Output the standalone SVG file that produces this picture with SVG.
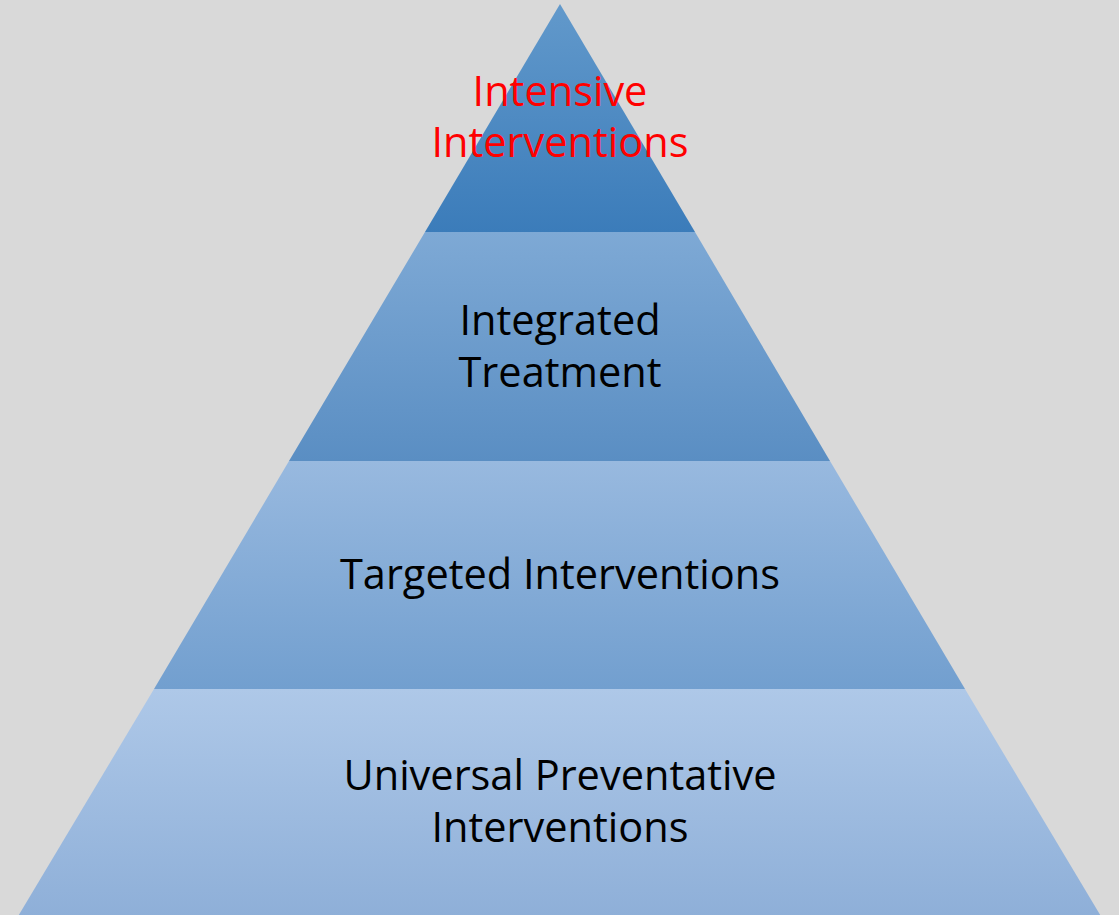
<svg xmlns="http://www.w3.org/2000/svg" width="1119" height="915" viewBox="0 0 1119 915">
  <defs>
    <linearGradient id="g1" x1="0" y1="0" x2="0" y2="1">
      <stop offset="0" stop-color="#6299cb"/>
      <stop offset="1" stop-color="#3b7cba"/>
    </linearGradient>
    <linearGradient id="g2" x1="0" y1="0" x2="0" y2="1">
      <stop offset="0" stop-color="#7ea9d5"/>
      <stop offset="1" stop-color="#5a8ec3"/>
    </linearGradient>
    <linearGradient id="g3" x1="0" y1="0" x2="0" y2="1">
      <stop offset="0" stop-color="#98b9df"/>
      <stop offset="1" stop-color="#729fcf"/>
    </linearGradient>
    <linearGradient id="g4" x1="0" y1="0" x2="0" y2="1">
      <stop offset="0" stop-color="#aec8e8"/>
      <stop offset="1" stop-color="#8eafd8"/>
    </linearGradient>
    <style>
      .lbl { font-family: "Open Sans", "Liberation Sans", sans-serif; font-size: 41.5px; text-anchor: middle; fill: #000; }
      .red { fill: #ff0000; }
    </style>
  </defs>
  <rect width="1119" height="915" fill="#d9d9d9"/>

  <g id="tier-universal">
    <polygon points="154,689 965,689 1102,918 17,918" fill="url(#g4)"/>
    <text class="lbl" x="560" y="790">Universal Preventative</text>
    <text class="lbl" x="560" y="842">Interventions</text>
  </g>
  <g id="tier-targeted">
    <polygon points="289,461 830,461 965,689 154,689" fill="url(#g3)"/>
    <text class="lbl" x="560" y="589">Targeted Interventions</text>
  </g>
  <g id="tier-integrated">
    <polygon points="425,232 695,232 830,461 289,461" fill="url(#g2)"/>
    <text class="lbl" x="560" y="335">Integrated</text>
    <text class="lbl" x="560" y="387">Treatment</text>
  </g>
  <g id="tier-intensive">
    <polygon points="560,4 695,232 425,232" fill="url(#g1)"/>
    <text class="lbl red" x="560" y="106">Intensive</text>
    <text class="lbl red" x="560" y="157">Interventions</text>
  </g>
</svg>
